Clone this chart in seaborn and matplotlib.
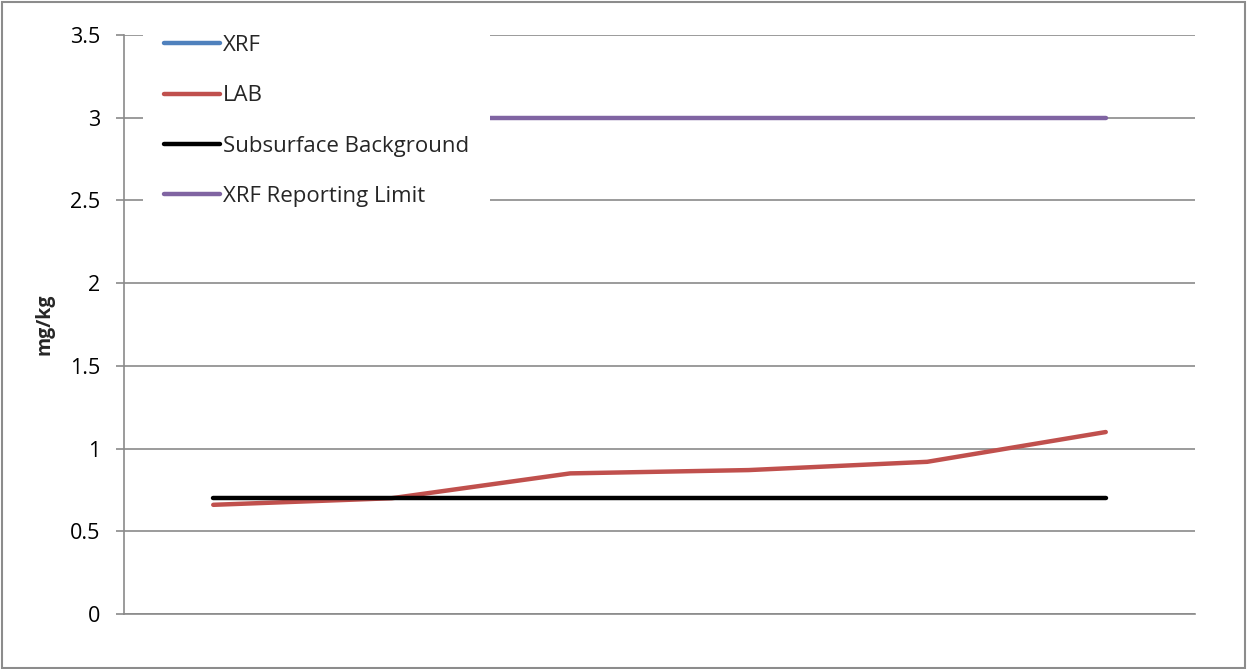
import matplotlib
matplotlib.use("Agg")
import matplotlib.pyplot as plt
import seaborn as sns
import numpy as np
import pandas as pd
from matplotlib.lines import Line2D
from matplotlib.patches import Rectangle

samples = ["1", "2", "3", "4", "5", "6"]
xrf = [np.nan, np.nan, np.nan, np.nan, np.nan, np.nan]
lab = [0.66, 0.70, 0.85, 0.87, 0.92, 1.10]
background = [0.70, 0.70, 0.70, 0.70, 0.70, 0.70]
reporting_limit = [3.0, 3.0, 3.0, 3.0, 3.0, 3.0]
series_names = ["XRF", "LAB", "Subsurface Background", "XRF Reporting Limit"]
colors = ["#4F81BD", "#C0504D", "#000000", "#8064A2"]
y_ticks = [0, 0.5, 1, 1.5, 2, 2.5, 3, 3.5]
y_tick_labels = ["0", "0.5", "1", "1.5", "2", "2.5", "3", "3.5"]

sns.set_theme(style="white")
plt.rcParams["font.family"] = ["Open Sans", "DejaVu Sans"]

fig = plt.figure(figsize=(12.47, 6.69), dpi=100)
ax = fig.add_axes([124/1247, 1 - 614/669, (1195 - 124)/1247, (614 - 35)/669])

x = np.arange(len(samples))
all_series = [xrf, lab, background, reporting_limit]
for name, vals, col in zip(series_names, all_series, colors):
    df = pd.DataFrame({"x": x, "y": vals}).dropna()
    if len(df):
        sns.lineplot(data=df, x="x", y="y", ax=ax, color=col, linewidth=3.2,
                     solid_capstyle="round", legend=False, zorder=3)

ax.set_xlim(-0.5, len(samples) - 0.5)
ax.set_ylim(0, 3.5)
ax.set_yticks(y_ticks)
ax.set_yticklabels(y_tick_labels)
ax.set_xticks([])
ax.set_xlabel("")
ax.set_ylabel("mg/kg", fontsize=14, fontweight="bold", labelpad=0)
ax.yaxis.set_label_coords(-70/1071, 0.5)

ax.grid(axis="y", color="#8a8a8a", linewidth=1.2, zorder=0)
ax.set_axisbelow(True)
for s in ["top", "right"]:
    ax.spines[s].set_visible(False)
for s in ["left", "bottom"]:
    ax.spines[s].set_color("#8a8a8a")
    ax.spines[s].set_linewidth(1.2)
ax.tick_params(axis="y", which="both", left=True, length=6, width=1.2,
               color="#8a8a8a", labelsize=15.5, pad=11, labelcolor="black")

handles = [Line2D([0], [0], color=c, linewidth=3.2, solid_capstyle="round") for c in colors]
leg = ax.legend(handles, series_names, loc="upper left",
                bbox_to_anchor=(143/1247, 1 - 14/669), bbox_transform=fig.transFigure,
                frameon=True, fancybox=False, framealpha=1, edgecolor="none",
                facecolor="white", fontsize=16, handlelength=2.5, handletextpad=0.15,
                labelspacing=1.32, borderpad=0.95, borderaxespad=0)
leg.set_zorder(5)

fig.patches.append(Rectangle((0.002, 0.002), 0.996, 0.995, transform=fig.transFigure,
                             fill=False, edgecolor="#8c8c8c", linewidth=1.5))

fig.savefig("out.png", dpi=100)
